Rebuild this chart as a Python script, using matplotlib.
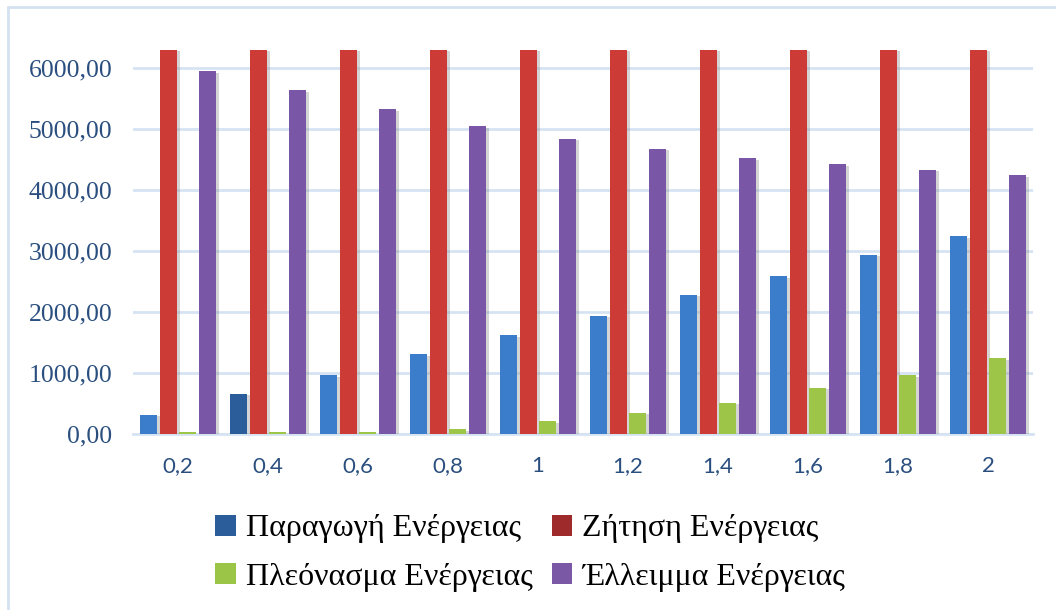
import matplotlib
matplotlib.use("Agg")
import matplotlib.pyplot as plt
import matplotlib.patheffects as pe
from matplotlib.patches import Rectangle, Patch
from matplotlib.font_manager import FontProperties
import numpy as np

categories = ["0,2", "0,4", "0,6", "0,8", "1", "1,2", "1,4", "1,6", "1,8", "2"]
production = [310, 655, 965, 1310, 1620, 1935, 2280, 2590, 2935, 3245]
demand = [6300, 6300, 6300, 6300, 6300, 6300, 6300, 6300, 6300, 6300]
surplus = [30, 30, 30, 75, 210, 345, 510, 755, 965, 1245]
deficit = [5950, 5640, 5330, 5050, 4840, 4675, 4525, 4425, 4330, 4245]
series_names = ["Παραγωγή Ενέργειας", "Ζήτηση Ενέργειας",
                "Πλεόνασμα Ενέργειας", "Έλλειμμα Ενέργειας"]
yticks = [0, 1000, 2000, 3000, 4000, 5000, 6000]

bar_colors = ["#3B7CCB", "#CC3B36", "#9DC547", "#7A57A6"]
legend_colors = ["#2C5D9B", "#9E2A2B", "#9BC547", "#7B58A6"]

fig = plt.figure(figsize=(10.56, 6.10), dpi=100)
# outer chart border
fig.patches.append(Rectangle((8/1056, -0.05), 1.2, 1 - 7/610 + 0.05,
                             transform=fig.transFigure, fill=False,
                             edgecolor="#D3E1F1", linewidth=2.0))

ax = fig.add_axes([133/1056, 1 - 434/610, 900/1056, 384/610])
x = np.arange(len(categories))
pitch = 0.217
width = 0.194
shadow = [pe.SimplePatchShadow(offset=(2, -1), shadow_rgbFace="#888888", alpha=0.35), pe.Normal()]
data = [production, demand, surplus, deficit]
for k, vals in enumerate(data):
    cols = [bar_colors[k]] * len(vals)
    if k == 0:
        cols[1] = "#2C5D9B"
    bars = ax.bar(x + (k - 1.5) * pitch, vals, width=width, color=cols, zorder=3)
    for b in bars:
        b.set_path_effects(shadow)

ax.set_xlim(-0.5, len(categories) - 0.5)
ax.set_ylim(0, 6300)
ax.tick_params(axis="both", length=0)
ax.tick_params(axis="y", pad=15)
ax.tick_params(axis="x", pad=16)
yfp = FontProperties(family="Liberation Serif", size=18.5)
xfp = FontProperties(family="Lato", size=16)
ax.set_yticks(yticks)
ax.set_yticklabels([f"{v},00" for v in yticks], fontproperties=yfp, color="#2A4F7F")
ax.set_xticks(x)
ax.set_xticklabels(categories, fontproperties=xfp, color="#2A4F7F")
ax.grid(axis="y", color="#D6E3F3", linewidth=2.0, zorder=0)
ax.set_axisbelow(True)
for s in ["top", "right", "left"]:
    ax.spines[s].set_visible(False)
ax.spines["bottom"].set_color("#D6E3F3")
ax.spines["bottom"].set_linewidth(2.0)

handles = [Patch(facecolor=c, edgecolor="none") for c in legend_colors]
order = [0, 2, 1, 3]
fig.legend([handles[i] for i in order], [series_names[i] for i in order],
           ncol=2, loc="center", bbox_to_anchor=(530/1056, 1 - 553/610),
           frameon=False, prop={"family": "Liberation Serif", "size": 23},
           handlelength=0.65, handleheight=0.65, handletextpad=0.3,
           columnspacing=0.6, labelspacing=0.6, borderaxespad=0)

fig.savefig("out.png", dpi=100)
